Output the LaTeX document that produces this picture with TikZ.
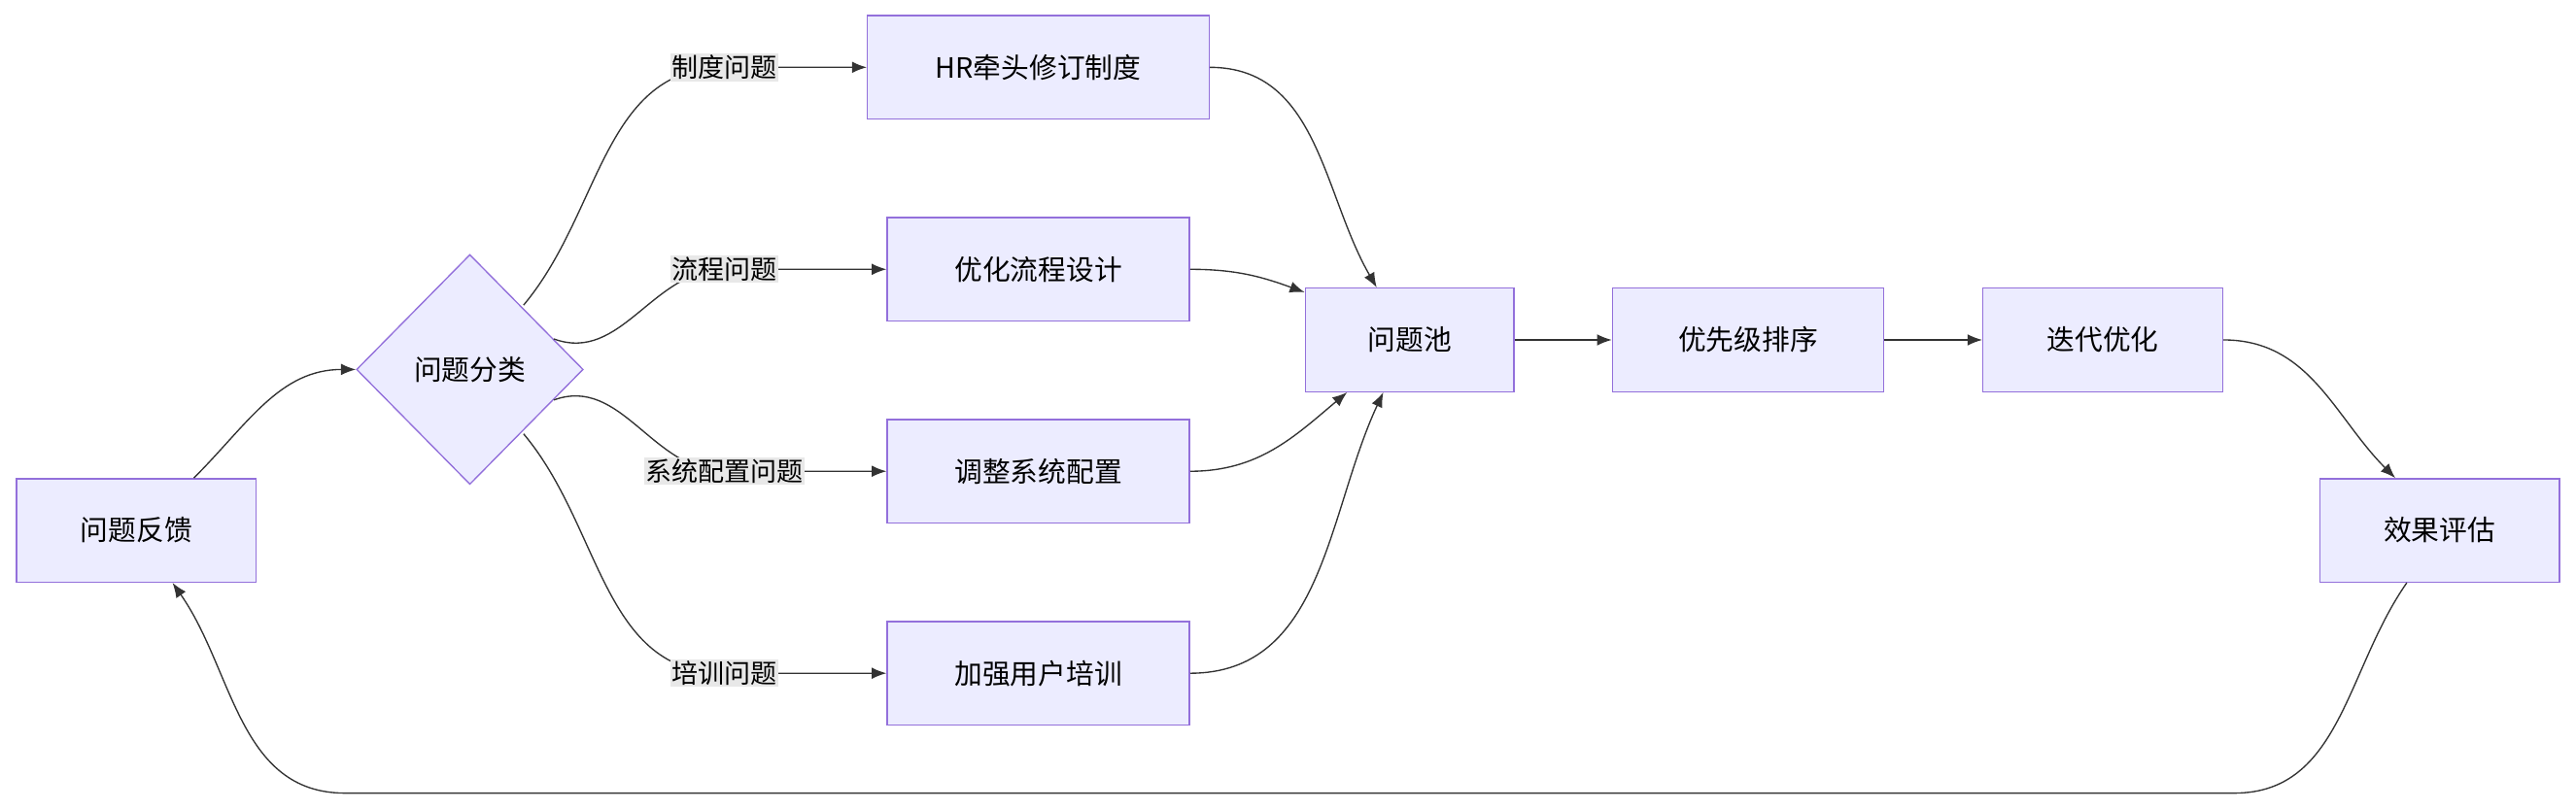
\documentclass[tikz,border=0pt]{standalone}
\usepackage{fontspec}
\setmainfont{Noto Sans CJK SC}
\usetikzlibrary{shapes.geometric, arrows.meta, calc}
\definecolor{boxfill}{HTML}{ECECFF}
\definecolor{boxline}{HTML}{9370DB}
\definecolor{edgecol}{HTML}{333333}
\definecolor{labelbg}{HTML}{E8E8E8}
\tikzset{
  proc/.style={
    rectangle,
    draw=boxline, fill=boxfill, thick,
    minimum height=63pt,
    inner sep=2pt,
    text centered,
    font=\fontsize{17}{20}\selectfont
  },
  decide/.style={
    diamond, aspect=1,
    draw=boxline, fill=boxfill, thick,
    minimum width=138pt, minimum height=140pt,
    inner sep=0pt,
    font=\fontsize{17}{20}\selectfont
  },
  tag/.style={
    fill=labelbg, inner sep=1pt,
    font=\fontsize{16}{19}\selectfont
  },
  arrow/.style={
    draw=edgecol,
    thick,
    -{Latex[length=9pt,width=7pt]}
  }
}
\begin{document}
\begin{tikzpicture}[x=1pt, y=-1pt]
\useasboundingbox (0,0) rectangle (1568,493);

% nodes
\node[proc, minimum width=146pt] (fb) at (83,323) {问题反馈};
\node[decide] (cls) at (286,225) {问题分类};
\node[proc, minimum width=208pt] (hr) at (632,41) {HR牵头修订制度};
\node[proc, minimum width=184pt] (flow) at (632,164) {优化流程设计};
\node[proc, minimum width=184pt] (sys) at (632,287) {调整系统配置};
\node[proc, minimum width=184pt] (train) at (632,410) {加强用户培训};
\node[proc, minimum width=127pt] (pool) at (858,207) {问题池};
\node[proc, minimum width=165pt] (prio) at (1064,207) {优先级排序};
\node[proc, minimum width=146pt] (iter) at (1280,207) {迭代优化};
\node[proc, minimum width=146pt] (eval) at (1485,323) {效果评估};

\coordinate (l1) at (441,41);
\coordinate (l2) at (441,164);
\coordinate (l3) at (441,287);
\coordinate (l4) at (441,410);
\coordinate (loopR) at (1360,483);
\coordinate (loopL) at (210,483);

% edges
\draw [arrow] ($(fb.north)+(35,0)$) to[out=45,in=180] (cls.west);
\draw [arrow] ($(cls.north east)+(-2,-4)$) to[out=50,in=180] (l1) to[out=0,in=180] (hr.west);
\draw [arrow] (cls.20) to[out=-20,in=180] (l2) to[out=0,in=180] (flow.west);
\draw [arrow] (cls.-20) to[out=20,in=180] (l3) -- (sys.west);
\draw [arrow] ($(cls.south east)+(-2,4)$) to[out=-50,in=180] (l4) to[out=0,in=180] (train.west);
\draw [arrow] (hr.east) to[out=0,in=120] ($(pool.north)+(-20,0)$);
\draw [arrow] (flow.east) to[out=0,in=160] ($(pool.west)+(0,-29)$);
\draw [arrow] (sys.east) to[out=0,in=-140] ($(pool.south)+(-38,0)$);
\draw [arrow] (train.east) to[out=0,in=-115] ($(pool.south)+(-16,0)$);
\draw [arrow] (pool) -- (prio);
\draw [arrow] (prio) -- (iter);
\draw [arrow] (iter.east) to[out=0,in=135] ($(eval.north)+(-27,0)$);
\draw [arrow] ($(eval.south)+(-20,0)$) to[out=-125,in=0] (loopR) -- (loopL) to[out=180,in=-55] ($(fb.south)+(22,0)$);

% labels
\node[tag] at (l1) {制度问题};
\node[tag] at (l2) {流程问题};
\node[tag] at (l3) {系统配置问题};
\node[tag] at (l4) {培训问题};
\end{tikzpicture}
\end{document}
